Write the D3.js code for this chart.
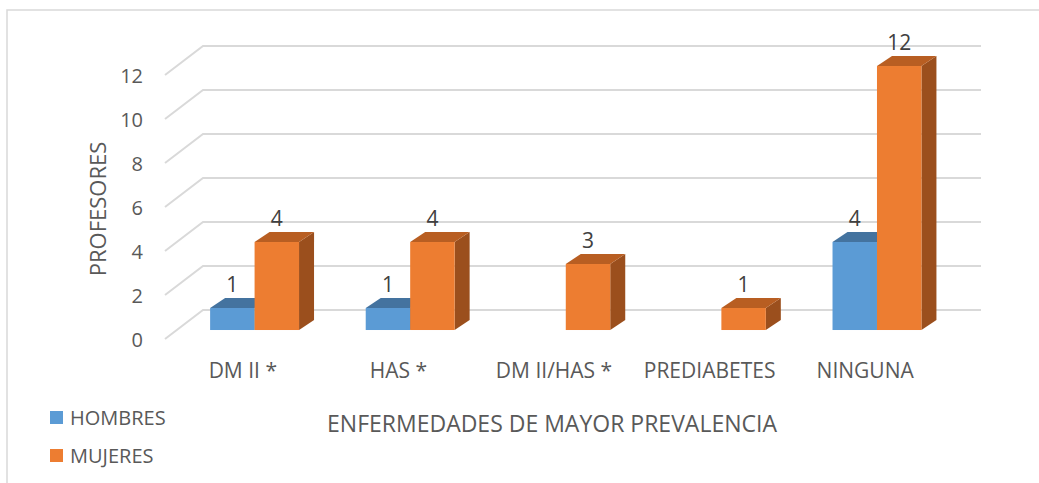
<!DOCTYPE html>
<meta charset="utf-8">
<style>
    body { margin: 0; background: #fff; }
    text {
        font-family: "Open Sans", sans-serif;
        fill: #595959;
    }
</style>
<svg id="svg" width="1039" height="483"></svg>
<script src="https://d3js.org/d3.v7.min.js"></script>
<script>

    // data
    var categories = ["DM II *", "HAS *", "DM II/HAS *", "PREDIABETES", "NINGUNA"];
    var seriesNames = ["HOMBRES", "MUJERES"];
    var hombres = [1, 1, 0, 0, 4];
    var mujeres = [4, 4, 3, 1, 12];
    var yTicks = [0, 2, 4, 6, 8, 10, 12];

    var colors = {
        HOMBRES: { front: "#5b9bd5", top: "#44739f", side: "#3a6590" },
        MUJERES: { front: "#ed7d31", top: "#b85e22", side: "#9b4f1d" }
    };

    var svg = d3.select("svg"),
        width = +svg.attr("width"),
        height = +svg.attr("height");

    // floor / wall geometry (oblique 3d look)
    var left = 165, right = 943;
    var depth = { dx: 38, dy: -29 };     // front of floor -> back wall
    var barFront = 0.31;                 // where the bar front sits in the depth
    var barDepth = { dx: 15, dy: -10 };

    var x = d3.scaleBand().domain(categories).range([left, right]).padding(0);
    var xs = d3.scaleBand().domain(seriesNames).range([0, x.bandwidth()]).paddingInner(0).paddingOuter(0.75);
    var y = d3.scaleLinear().domain([0, 12]).range([339, 75]);

    // chart area border (only top/left show in the picture)
    svg.append("path")
        .attr("d", "M7," + height + "V10H" + width)
        .attr("fill", "none")
        .attr("stroke", "#d9d9d9")
        .attr("stroke-width", 1.5);

    // gridlines, bent back onto the wall
    svg.append("g").selectAll("path")
        .data(yTicks)
        .enter().append("path")
        .attr("d", function (t) {
            return "M" + left + "," + y(t) +
                "L" + (left + depth.dx) + "," + (y(t) + depth.dy) +
                "H" + (right + depth.dx);
        })
        .attr("fill", "none")
        .attr("stroke", "#d9d9d9")
        .attr("stroke-width", 2);

    // y tick labels
    svg.append("g").selectAll("text")
        .data(yTicks)
        .enter().append("text")
        .attr("x", 143)
        .attr("y", function (t) { return y(t) + 3; })
        .attr("text-anchor", "end")
        .attr("dominant-baseline", "middle")
        .attr("font-size", 20)
        .text(function (t) { return t; });

    // bars
    var offX = barFront * depth.dx, offY = barFront * depth.dy;
    var bars = [];
    categories.forEach(function (c, i) {
        bars.push({ cat: c, s: "HOMBRES", v: hombres[i] });
        bars.push({ cat: c, s: "MUJERES", v: mujeres[i] });
    });

    var gBars = svg.append("g");
    bars.filter(function (d) { return d.v > 0; }).forEach(function (d) {
        var x0 = x(d.cat) + xs(d.s) + offX,
            x1 = x0 + xs.bandwidth(),
            y0 = y(0) + offY,
            y1 = y(d.v) + offY;
        var col = colors[d.s];
        // side
        gBars.append("path")
            .attr("d", "M" + x1 + "," + y1 + "L" + (x1 + barDepth.dx) + "," + (y1 + barDepth.dy) +
                "L" + (x1 + barDepth.dx) + "," + (y0 + barDepth.dy) + "L" + x1 + "," + y0 + "Z")
            .attr("fill", col.side);
        // top
        gBars.append("path")
            .attr("d", "M" + x0 + "," + y1 + "L" + (x0 + barDepth.dx) + "," + (y1 + barDepth.dy) +
                "L" + (x1 + barDepth.dx) + "," + (y1 + barDepth.dy) + "L" + x1 + "," + y1 + "Z")
            .attr("fill", col.top);
        // front
        gBars.append("rect")
            .attr("x", x0)
            .attr("y", y1)
            .attr("width", xs.bandwidth())
            .attr("height", y0 - y1)
            .attr("fill", col.front);
        // value label
        gBars.append("text")
            .attr("x", (x0 + x1) / 2)
            .attr("y", y1 - 16)
            .attr("text-anchor", "middle")
            .attr("font-size", 21)
            .style("fill", "#404040")
            .text(d.v);
    });

    // category labels
    svg.append("g").selectAll("text")
        .data(categories)
        .enter().append("text")
        .attr("x", function (c) { return x(c) + x.bandwidth() / 2; })
        .attr("y", 378)
        .attr("text-anchor", "middle")
        .attr("font-size", 21)
        .text(function (c) { return c; });

    // axis titles
    svg.append("text")
        .attr("transform", "translate(106,209) rotate(-90)")
        .attr("text-anchor", "middle")
        .attr("font-size", 22)
        .text("PROFESORES");

    svg.append("text")
        .attr("x", 552)
        .attr("y", 432)
        .attr("text-anchor", "middle")
        .attr("font-size", 23)
        .text("ENFERMEDADES DE MAYOR PREVALENCIA");

    // legend
    var legend = svg.append("g").selectAll("g")
        .data(seriesNames)
        .enter().append("g")
        .attr("transform", function (d, i) { return "translate(50," + (411 + i * 38) + ")"; });

    legend.append("rect")
        .attr("width", 13)
        .attr("height", 13)
        .attr("fill", function (d) { return colors[d].front; });

    legend.append("text")
        .attr("x", 20)
        .attr("y", 14)
        .attr("font-size", 20)
        .text(function (d) { return d; });

</script>
